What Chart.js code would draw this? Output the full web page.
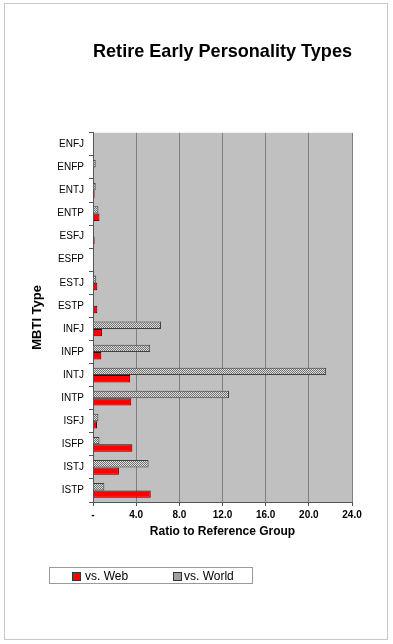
<!DOCTYPE html>
<html>
<head>
<meta charset="utf-8">
<script src="https://cdn.jsdelivr.net/npm/chart.js@4.4.1/dist/chart.umd.min.js"></script>
<style>
html, body { margin:0; padding:0; background:#fff; }
#marco { position:absolute; left:4px; top:3px; width:384px; height:637px; border:1px solid #c8c8c8; box-sizing:border-box; }
#grafica { position:absolute; left:0; top:0; }
#leyenda { position:absolute; left:49px; top:567px; width:204px; height:17px; border:1px solid #9a9a9a; box-sizing:border-box; font:12px "Liberation Sans", Arial, sans-serif; color:#000; }
#leyenda .caja { position:absolute; top:4px; width:7px; height:7px; border:1px solid #333; }
#leyenda .texto { position:absolute; top:1px; line-height:14px; white-space:nowrap; }
</style>
</head>
<body>
<div id="marco"></div>
<canvas id="grafica" width="393" height="644"></canvas>
<div id="leyenda"></div>
<script>
const tipos = ["ENFJ","ENFP","ENTJ","ENTP","ESFJ","ESFP","ESTJ","ESTP","INFJ","INFP","INTJ","INTP","ISFJ","ISFP","ISTJ","ISTP"];
const vsWeb   = [0, 0, 0.15, 0.6, 0.15, 0, 0.4, 0.4, 0.83, 0.77, 3.45, 3.55, 0.37, 3.65, 2.4, 5.35];
const vsWorld = [0, 0.25, 0.25, 0.5, 0, 0, 0.3, 0, 6.3, 5.3, 21.6, 12.6, 0.5, 0.6, 5.15, 1.05];
const ticksX = [0, 4, 8, 12, 16, 20, 24];

const fuente = '"Liberation Sans", Arial, sans-serif';

// trama gris tipo Excel para la serie "vs. World"
function crearTrama(){
    const c = document.createElement("canvas");
    c.width = 2; c.height = 2;
    const ctx = c.getContext("2d");
    ctx.fillStyle = "#e0e0e0";
    ctx.fillRect(0, 0, 2, 2);
    ctx.fillStyle = "#707070";
    ctx.fillRect(0, 0, 1, 1);
    ctx.fillRect(1, 1, 1, 1);
    return ctx.createPattern(c, "repeat");
}

const fondoArea = {
    id: "fondoArea",
    beforeDraw(chart){
        const a = chart.chartArea;
        const ctx = chart.ctx;
        ctx.save();
        ctx.fillStyle = "#c0c0c0";
        ctx.fillRect(a.left, a.top, a.right - a.left, a.bottom - a.top);
        ctx.restore();
    }
};

const grafica = new Chart("grafica", {
    type: "bar",
    data: {
        labels: tipos,
        datasets: [
            {
                label: "vs. World",
                data: vsWorld,
                backgroundColor: crearTrama(),
                borderColor: "#404040",
                borderWidth: 1,
                legendColor: "#a0a0a0"
            },
            {
                label: "vs. Web",
                data: vsWeb,
                backgroundColor: "#ff0000",
                borderColor: "#500000",
                borderWidth: 1,
                legendColor: "#ff0000"
            }
        ]
    },
    plugins: [fondoArea],
    options: {
        responsive: false,
        animation: false,
        indexAxis: "y",
        categoryPercentage: 0.64,
        barPercentage: 1.0,
        layout: { padding: { left: 24, right: 41, top: 40, bottom: 100 } },
        scales: {
            x: {
                min: 0,
                max: 24,
                afterBuildTicks: (eje) => { eje.ticks = ticksX.map(v => ({ value: v })); },
                afterFit: (eje) => { eje.height = 42; },
                grid: { color: "#808080", lineWidth: 1, drawTicks: true, tickLength: 4, tickColor: "#555" },
                border: { color: "#555" },
                ticks: {
                    padding: 3,
                    color: "#000",
                    font: { family: fuente, size: 10, weight: "bold" },
                    callback: (v) => v === 0 ? "-" : Number(v).toFixed(1)
                },
                title: {
                    display: true,
                    text: "Ratio to Reference Group",
                    color: "#000",
                    font: { family: fuente, size: 12, weight: "bold" },
                    padding: { top: 0, bottom: 5 }
                }
            },
            y: {
                afterFit: (eje) => { eje.width = 69; },
                grid: { offset: true, drawOnChartArea: false, tickLength: 4, color: "#555" },
                border: { color: "#555" },
                ticks: {
                    padding: 5,
                    color: "#000",
                    font: { family: fuente, size: 10 }
                },
                title: {
                    display: true,
                    text: "MBTI Type",
                    color: "#000",
                    font: { family: fuente, size: 13, weight: "bold" },
                    padding: { top: 6, bottom: 0 }
                }
            }
        },
        plugins: {
            legend: { display: false },
            tooltip: { enabled: false },
            title: {
                display: true,
                fullSize: false,
                text: "Retire Early Personality Types",
                color: "#000",
                font: { family: fuente, size: 19, weight: "bold" },
                padding: { top: 0, bottom: 70 }
            }
        }
    }
});

// leyenda en HTML, en el orden de la original (Web primero)
const leyenda = document.getElementById("leyenda");
const posiciones = [[22, 35], [123, 134]];
grafica.data.datasets.slice().reverse().forEach((ds, i) => {
    const caja = document.createElement("div");
    caja.classList.add("caja");
    caja.style.left = posiciones[i][0] + "px";
    caja.style.background = ds.legendColor;
    leyenda.appendChild(caja);
    const texto = document.createElement("div");
    texto.classList.add("texto");
    texto.style.left = posiciones[i][1] + "px";
    texto.innerText = ds.label;
    leyenda.appendChild(texto);
});
</script>
</body>
</html>
